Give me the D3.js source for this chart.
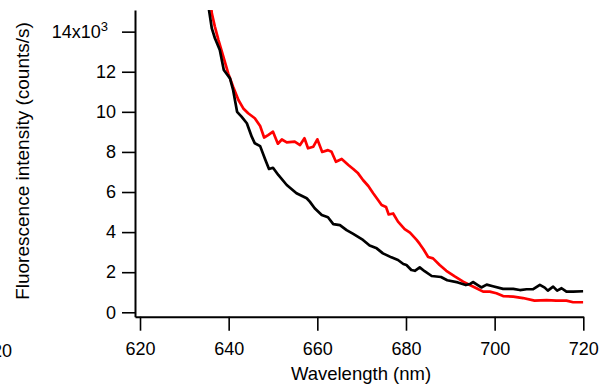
<!DOCTYPE html>
<html>
<head>
<meta charset="utf-8">
<script src="https://cdn.jsdelivr.net/npm/d3@7"></script>
<style>
  body { margin: 0; background: #fff; }
  text { font-family: "Liberation Sans", Arial, sans-serif; }
</style>
</head>
<body>
<svg id="drawing_region"></svg>
<script>
// wavelength (nm) and intensity (counts/s)
const black_wl = [635.3, 635.6, 636.2, 636.9, 638.0, 638.9, 640.3, 641.0, 641.9, 642.9, 644.1, 645.2, 645.9,
    647.1, 648.2, 649.1, 650.0, 651.2, 653.1, 655.3, 657.6, 658.3, 659.4, 661.0, 662.4, 663.6,
    665.1, 666.6, 668.1, 670.3, 671.8, 673.4, 674.8, 676.7, 678.2, 679.4, 680.1, 681.2, 682.0,
    683.1, 684.2, 685.8, 687.9, 689.3, 691.7, 693.5, 694.4, 695.1, 696.2, 697.0, 698.2, 699.6,
    701.9, 704.2, 705.7, 707.2, 708.7, 710.2, 711.3, 712.0, 713.2, 714.1, 715.1, 716.2, 717.7, 720.0];
const black_val = [15600, 15030, 14160, 13670, 13080, 12090, 11670, 11090, 10000, 9760, 9430, 8760, 8430,
    8290, 7650, 7150, 7210, 6850, 6350, 5940, 5690, 5520, 5190, 4850, 4740, 4400,
    4350, 4100, 3910, 3610, 3330, 3190, 2940, 2740, 2610, 2410, 2360, 2110, 2070,
    2240, 2050, 1810, 1760, 1600, 1490, 1360, 1410, 1510, 1360, 1240, 1380, 1300,
    1170, 1170, 1110, 1150, 1150, 1370, 1230, 1080, 1280, 1080, 1200, 1030, 1030, 1050];

const red_wl = [635.9, 636.2, 636.9, 637.7, 638.8, 639.9, 641.0, 642.2, 643.3, 644.4, 645.9, 647.1, 648.0,
    648.9, 650.0, 651.1, 652.0, 653.1, 654.9, 656.1, 657.1, 657.9, 659.1, 660.0, 661.1, 662.4,
    663.2, 664.2, 665.5, 667.0, 668.1, 669.2, 670.3, 671.5, 672.6, 673.7, 674.5, 675.5, 676.1,
    677.1, 678.2, 679.7, 680.9, 682.4, 683.1, 683.9, 685.0, 686.1, 687.6, 689.1, 691.0, 692.9,
    694.4, 695.9, 697.4, 698.9, 700.4, 701.9, 704.2, 706.4, 709.0, 711.7, 713.9, 716.2, 717.7, 720.0];
const red_val = [15500, 14910, 14240, 13580, 12750, 11920, 11250, 10590, 10170, 9930, 9680, 9290, 8720,
    8840, 9010, 8410, 8620, 8480, 8510, 8340, 8680, 8180, 8260, 8630, 8000, 8090,
    8010, 7510, 7650, 7350, 7150, 6930, 6600, 6300, 5940, 5600, 5350, 5250, 4880,
    4930, 4520, 4150, 3970, 3610, 3410, 3160, 2760, 2690, 2360, 2070, 1790, 1530,
    1360, 1200, 1030, 1030, 950, 810, 780, 710, 580, 610, 580, 580, 500, 500];

const x_ticks = [620, 640, 660, 680, 700, 720];
const y_ticks = [0, 2000, 4000, 6000, 8000, 10000, 12000, 14000];

const width = 605, height = 390;
const svg = d3.select('#drawing_region')
    .attr('width', width)
    .attr('height', height);

const xscale = d3.scaleLinear().domain([618.87, 720]).range([135, 583.3]);
const yscale = d3.scaleLinear().domain([-220, 15080]).range([316.7, 10]);

svg.append('clipPath').attr('id', 'plot_clip')
    .append('rect')
    .attr('x', 135).attr('y', 10)
    .attr('width', 583.3 - 135).attr('height', 316.7 - 10);

const line = d3.line()
    .x(d => xscale(d[0]))
    .y(d => yscale(d[1]));

const plot = svg.append('g').attr('clip-path', 'url(#plot_clip)');

plot.append('path')
    .attr('d', line(d3.zip(red_wl, red_val)))
    .attr('fill', 'none')
    .attr('stroke', '#ff0000')
    .attr('stroke-width', 2.7)
    .attr('stroke-linejoin', 'round');

plot.append('path')
    .attr('d', line(d3.zip(black_wl, black_val)))
    .attr('fill', 'none')
    .attr('stroke', '#000')
    .attr('stroke-width', 2.7)
    .attr('stroke-linejoin', 'round');

// axes
const xaxis = d3.axisBottom(xscale)
    .tickValues(x_ticks)
    .tickSize(14)
    .tickSizeOuter(0)
    .tickPadding(12)
    .tickFormat(d3.format('d'));

const xaxis_group = svg.append('g')
    .attr('transform', 'translate(0, 316.7)')
    .call(xaxis);

const yaxis = d3.axisLeft(yscale)
    .tickValues(y_ticks)
    .tickSize(13)
    .tickSizeOuter(0)
    .tickPadding(6)
    .tickFormat(d => d === 14000 ? '14x10' : d / 1000);

const yaxis_group = svg.append('g')
    .attr('transform', 'translate(135, 0)')
    .call(yaxis);

yaxis_group.selectAll('.tick text')
    .filter(d => d === 14000)
    .attr('dx', '-8')
    .append('tspan')
    .attr('dy', '-7')
    .attr('font-size', 13)
    .text('3');

[xaxis_group, yaxis_group].forEach(g => {
    g.selectAll('.domain').attr('stroke', '#000').attr('stroke-width', 2);
    g.selectAll('.tick line').attr('stroke', '#000').attr('stroke-width', 1.6);
    g.selectAll('.tick text')
        .attr('fill', '#000')
        .attr('font-size', 18)
        .attr('font-family', '"Liberation Sans", Arial, sans-serif');
});

svg.append('text')
    .attr('x', 361)
    .attr('y', 380)
    .attr('text-anchor', 'middle')
    .attr('font-size', 18.5)
    .text('Wavelength (nm)');

svg.append('text')
    .attr('transform', 'translate(29, 161) rotate(-90)')
    .attr('text-anchor', 'middle')
    .attr('font-size', 19)
    .text('Fluorescence intensity (counts/s)');

// clipped label from a neighbouring panel
svg.append('text')
    .attr('x', 12)
    .attr('y', 357)
    .attr('text-anchor', 'end')
    .attr('font-size', 18)
    .text('720');
</script>
</body>
</html>
